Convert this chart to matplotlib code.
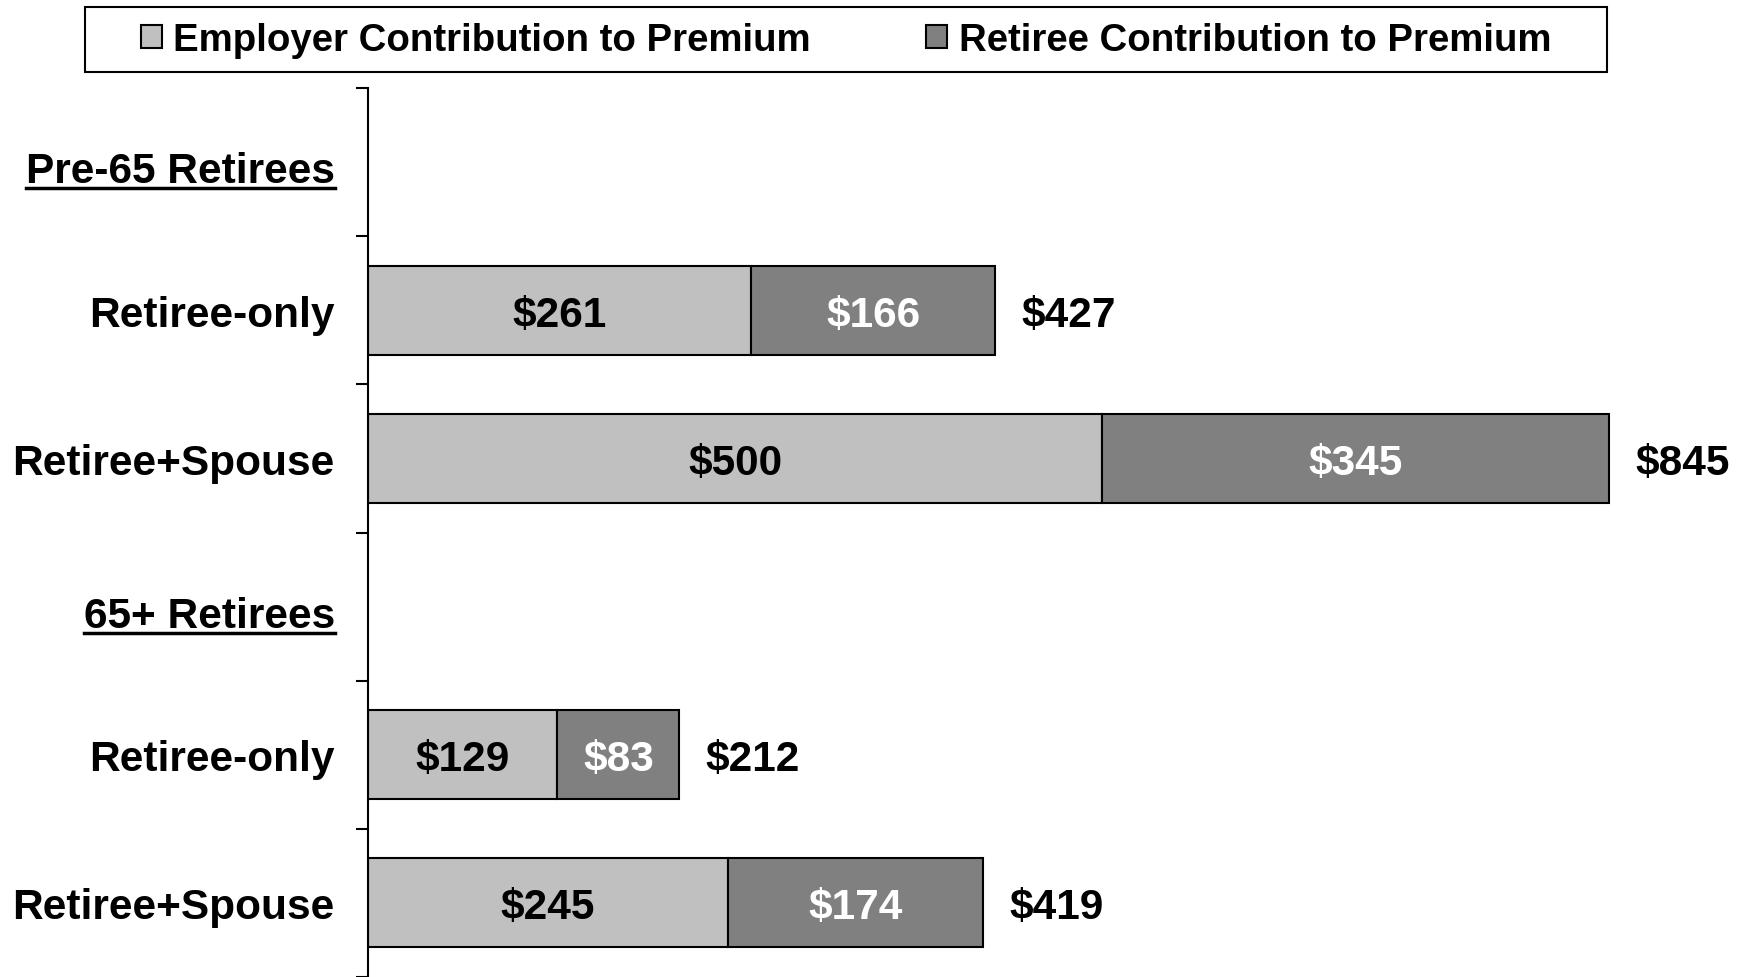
import matplotlib.pyplot as plt
from matplotlib.patches import Patch, Rectangle
from matplotlib.lines import Line2D

# Data
categories = ["Pre-65 Retirees", "Retiree-only", "Retiree+Spouse",
              "65+ Retirees", "Retiree-only", "Retiree+Spouse"]
header_rows = [0, 3]
bar_rows = [1, 2, 4, 5]
employer = [261, 500, 129, 245]
retiree = [166, 345, 83, 174]
series_names = ["Employer Contribution to Premium", "Retiree Contribution to Premium"]

plt.rcParams['font.family'] = ['Liberation Sans', 'DejaVu Sans']
plt.rcParams['font.weight'] = 'bold'

c_emp = "#C0C0C0"
c_ret = "#808080"
fs = 30.5

fig = plt.figure(figsize=(17.5, 9.78), dpi=100)
ax = fig.add_axes([368 / 1750, 0.0, 1 - 368 / 1750, 1 - 89 / 978])

ax.barh(bar_rows, employer, height=0.6, color=c_emp, edgecolor="black", linewidth=1.5)
ax.barh(bar_rows, retiree, left=employer, height=0.6, color=c_ret, edgecolor="black", linewidth=1.5)

for y, e, r in zip(bar_rows, employer, retiree):
    ax.text(e / 2, y, f"${e}", ha="center", va="center_baseline", fontsize=fs, fontweight="bold", color="black")
    ax.text(e + r / 2, y, f"${r}", ha="center", va="center_baseline", fontsize=fs, fontweight="bold", color="white")
    ax.text(e + r + 18, y, f"${e + r}", ha="left", va="center_baseline", fontsize=fs, fontweight="bold", color="black")

ax.set_xlim(0, 941)
ax.set_ylim(5.5, -0.5)

# category labels (headers drawn separately so they can be underlined)
ticklabels = ["" if i in header_rows else c for i, c in enumerate(categories)]
ax.set_yticks(range(len(categories)))
ax.set_yticklabels(ticklabels, fontsize=fs, fontweight="bold")
ax.tick_params(axis="y", which="major", length=0, pad=24)
ax.set_yticks([i - 0.5 for i in range(len(categories) + 1)], minor=True)
ax.tick_params(axis="y", which="minor", length=9, width=1.5, direction="out")
ax.set_xticks([])

for s in ["top", "right", "bottom"]:
    ax.spines[s].set_visible(False)
ax.spines["left"].set_linewidth(1.5)

headers = []
for i in header_rows:
    t = ax.annotate(categories[i], xy=(0, i), xycoords=("axes fraction", "data"),
                    xytext=(-33, -9), textcoords="offset pixels",
                    ha="right", va="center", fontsize=fs, fontweight="bold")
    headers.append(t)

# legend with a hand-drawn frame
fig.add_artist(Rectangle((85 / 1750, 1 - 73 / 978), 1522 / 1750, 65 / 978,
                         transform=fig.transFigure, facecolor="white",
                         edgecolor="black", linewidth=1.5))
handles = [Patch(facecolor=c_emp, edgecolor="black", linewidth=1.5),
           Patch(facecolor=c_ret, edgecolor="black", linewidth=1.5)]
leg = fig.legend(handles, series_names, loc="center", ncol=2,
                 bbox_to_anchor=((85 + 1607) / 2 / 1750, 1 - 41 / 978),
                 fontsize=27.6, frameon=False, borderaxespad=0, borderpad=0,
                 handlelength=0.55, handleheight=0.55, handletextpad=0.3,
                 columnspacing=3.0)

# underline the group headers
fig.canvas.draw()
renderer = fig.canvas.get_renderer()
W, H = fig.bbox.width, fig.bbox.height
for t in headers:
    bb = t.get_window_extent(renderer)
    y = bb.y0 + 3
    fig.add_artist(Line2D([bb.x0 / W, bb.x1 / W], [y / H, y / H],
                          transform=fig.transFigure, color="black", linewidth=2.5))

fig.savefig("out.png", dpi=100)
